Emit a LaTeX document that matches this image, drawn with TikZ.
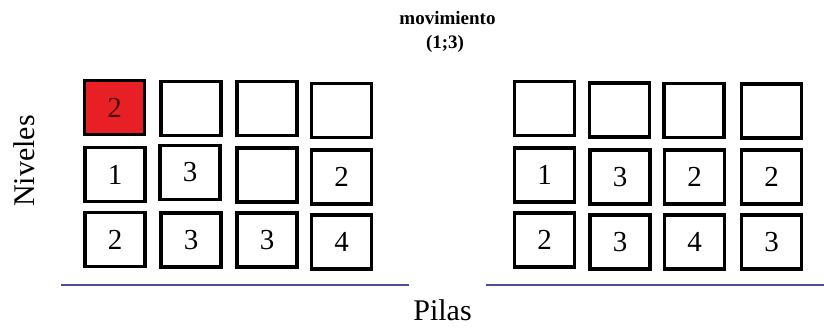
\documentclass[tikz,border=0pt]{standalone}
\usepackage{fontspec}
\setmainfont{Liberation Serif}
\definecolor{boxred}{RGB}{232,32,38}
\definecolor{darkred}{RGB}{70,14,14}
\definecolor{axisblue}{RGB}{76,76,156}
\tikzset{
  cell/.style={draw=black, line width=3.6pt, fill=white, minimum width=60pt, minimum height=54pt, inner sep=0pt, font=\fontsize{29}{31}\selectfont},
  redcell/.style={cell, fill=boxred, text=darkred},
  axis/.style={draw=axisblue, line width=2.6pt},
  label/.style={font=\fontsize{30}{32}\selectfont, inner sep=0pt},
  title/.style={font=\fontsize{19}{21}\selectfont\bfseries, inner sep=0pt}
}
\begin{document}
\begin{tikzpicture}[x=1pt,y=-1pt]
\useasboundingbox (0,0) rectangle (824,328);
% left configuration
\node[redcell] (L11) at (114.5,107.5) {2};
\node[cell] (L12) at (191,108.5) {};
\node[cell] (L13) at (267,108.5) {};
\node[cell] (L14) at (341.5,110.5) {};
\node[cell] (L21) at (115,174.5) {1};
\node[cell] (L22) at (190,172.5) {3};
\node[cell] (L23) at (267,175) {};
\node[cell] (L24) at (341.5,177) {2};
\node[cell] (L31) at (115,239.5) {2};
\node[cell] (L32) at (191,240) {3};
\node[cell] (L33) at (267,240) {3};
\node[cell] (L34) at (341.5,242) {4};
% right configuration
\node[cell] (R11) at (544.5,108.5) {};
\node[cell] (R12) at (619.5,110) {};
\node[cell] (R13) at (694,110.5) {};
\node[cell] (R14) at (771.5,111) {};
\node[cell] (R21) at (544.5,175) {1};
\node[cell] (R22) at (620,177) {3};
\node[cell] (R23) at (694.5,177) {2};
\node[cell] (R24) at (771.5,177) {2};
\node[cell] (R31) at (544.5,240) {2};
\node[cell] (R32) at (620,242) {3};
\node[cell] (R33) at (694.5,242) {4};
\node[cell] (R34) at (771.5,242) {3};
% axes
\coordinate (la) at (61,285);
\coordinate (lb) at (409,285);
\coordinate (ra) at (486,285);
\coordinate (rb) at (824,285);
\draw[axis] (la) -- (lb);
\draw[axis] (ra) -- (rb);
% labels
\node[label, rotate=90] (niv) at (24,161) {Niveles};
\node[label, anchor=base] (pil) at (442.5,320) {Pilas};
\node[title] (mov) at (447.5,18) {movimiento};
\node[title] (par) at (445,44) {(1;3)};
\end{tikzpicture}
\end{document}
